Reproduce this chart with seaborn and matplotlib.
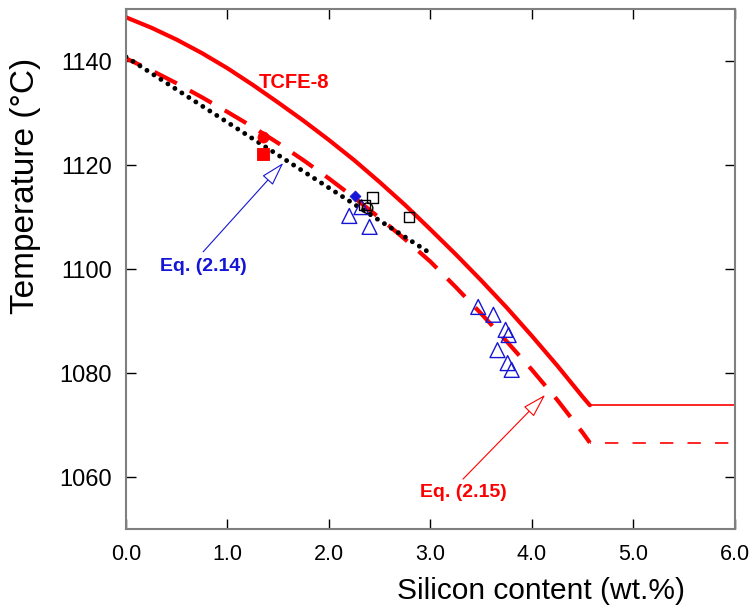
"""Liquidus temperature vs silicon content: TCFE-8, Eq. (2.14), Eq. (2.15)."""

import numpy as np
import pandas as pd
import seaborn as sns
import matplotlib
matplotlib.use("Agg")
import matplotlib.pyplot as plt

# TCFE-8 calculated curve (solid) and its plateau
si_tcfe = [0.0, 0.25, 0.5, 0.75, 1.0, 1.25, 1.5, 1.75, 2.0, 2.25, 2.5,
           2.75, 3.0, 3.25, 3.5, 3.75, 4.0, 4.25, 4.5, 4.57]
t_tcfe = [1148.4, 1146.4, 1144.1, 1141.5, 1138.6, 1135.4, 1132.0, 1128.5, 1124.8, 1120.9, 1116.7,
          1112.3, 1107.6, 1102.8, 1097.8, 1092.6, 1087.1, 1081.4, 1075.4, 1073.8]
si_tcfe_flat = [4.57, 6.0]
t_tcfe_flat = [1073.8, 1073.8]

# Eq. (2.15) (dashed) and its plateau
si_eq215 = [0.0, 0.25, 0.5, 0.75, 1.0, 1.25, 1.5, 1.75, 2.0, 2.25, 2.5,
            2.75, 3.0, 3.25, 3.5, 3.75, 4.0, 4.25, 4.5, 4.57]
t_eq215 = [1140.5, 1138.2, 1135.7, 1133.0, 1130.2, 1127.3, 1124.2, 1120.9, 1117.4, 1113.7, 1109.8,
           1105.7, 1101.4, 1096.5, 1091.4, 1086.1, 1080.6, 1074.8, 1068.5, 1066.6]
si_eq215_flat = [4.57, 6.0]
t_eq215_flat = [1066.6, 1066.6]

# Eq. (2.14) (dotted)
si_eq214 = [0.0, 1.0, 2.0, 3.0]
t_eq214 = [1140.8, 1128.2, 1115.6, 1103.0]

# measured points
red_circle_si, red_circle_t = [1.35], [1125.4]
red_square_si, red_square_t = [1.35], [1122.1]
blue_diamond_si, blue_diamond_t = [2.26], [1114.0]
black_square_si = [2.43, 2.35, 2.79]
black_square_t = [1113.8, 1112.3, 1110.0]
black_circle_si, black_circle_t = [2.38], [1111.7]
triangle_si = [2.20, 2.32, 2.40, 3.47, 3.62, 3.74, 3.77, 3.66, 3.76, 3.80]
triangle_t = [1110.2, 1111.9, 1108.1, 1092.7, 1091.2, 1088.3, 1087.3, 1084.4, 1081.9, 1080.6]

x_ticks = [0, 1, 2, 3, 4, 5, 6]
y_ticks = [1060, 1080, 1100, 1120, 1140]

RED = "#ff0000"
BLUE = "#1515d5"

sns.set_style("ticks")
plt.rcParams["font.family"] = ["Liberation Sans", "DejaVu Sans"]

fig = plt.figure(figsize=(7.49, 6.08), dpi=100)
ax = fig.add_axes([0.1682, 0.1299, 0.8131, 0.8553])

# curves
sns.lineplot(x=si_tcfe, y=t_tcfe, ax=ax, color=RED, lw=3.0, sort=False)
sns.lineplot(x=si_tcfe_flat, y=t_tcfe_flat, ax=ax, color=RED, lw=1.2, sort=False)
sns.lineplot(x=si_eq215, y=t_eq215, ax=ax, color=RED, lw=3.0, sort=False,
             linestyle=(2, (6.0, 3.6)))
sns.lineplot(x=si_eq215_flat, y=t_eq215_flat, ax=ax, color=RED, lw=1.2, sort=False,
             linestyle=(-9, (8.0, 8.5)))
sns.lineplot(x=si_eq214, y=t_eq214, ax=ax, color="black", lw=3.5, sort=False,
             linestyle=(0, (0.01, 1.7)), dash_capstyle="round")

# points
sns.scatterplot(x=triangle_si, y=triangle_t, ax=ax, marker="^", s=115,
                facecolors="none", edgecolor=BLUE, linewidth=1.0, zorder=5)
sns.scatterplot(x=black_square_si, y=black_square_t, ax=ax, marker="s", s=58,
                facecolors="none", edgecolor="black", linewidth=1.0, zorder=5)
sns.scatterplot(x=black_circle_si, y=black_circle_t, ax=ax, marker="o", s=58,
                facecolors="none", edgecolor="black", linewidth=1.0, zorder=5)
sns.scatterplot(x=blue_diamond_si, y=blue_diamond_t, ax=ax, marker="D", s=32,
                color=BLUE, edgecolor=BLUE, zorder=6)
sns.scatterplot(x=red_circle_si, y=red_circle_t, ax=ax, marker="o", s=62,
                color=RED, edgecolor=RED, zorder=6)
sns.scatterplot(x=red_square_si, y=red_square_t, ax=ax, marker="s", s=66,
                color=RED, edgecolor=RED, zorder=6)

# labels and arrows
ax.text(1.66, 1135.9, "TCFE-8", color=RED, fontsize=14.5, fontweight="bold",
        ha="center", va="center")
ax.text(0.76, 1100.4, "Eq. (2.14)", color=BLUE, fontsize=14, fontweight="bold",
        ha="center", va="center")
ax.text(3.32, 1057.1, "Eq. (2.15)", color=RED, fontsize=14, fontweight="bold",
        ha="center", va="center")
arrow_kw = dict(arrowstyle="-|>,head_length=0.75,head_width=0.22", fc="white",
                lw=0.8, shrinkA=0, shrinkB=0, mutation_scale=20)
ax.annotate("", xy=(1.55, 1120.4), xytext=(0.76, 1103.3),
            arrowprops=dict(ec=BLUE, **arrow_kw))
ax.annotate("", xy=(4.13, 1075.8), xytext=(3.32, 1059.6),
            arrowprops=dict(ec=RED, **arrow_kw))

ax.set_xlim(0, 6)
ax.set_ylim(1050, 1150)
ax.set_xticks(x_ticks)
ax.set_xticklabels([f"{v:.1f}" for v in x_ticks])
ax.set_yticks(y_ticks)
ax.tick_params(direction="in", length=7, width=1.0, pad=10,
               top=True, right=True, color="black", labelcolor="black")
ax.tick_params(axis="x", labelsize=15.5, pad=11)
ax.tick_params(axis="y", labelsize=17)
for sp in ax.spines.values():
    sp.set_color("#7f7f7f")
    sp.set_linewidth(1.5)

ax.set_xlabel("Silicon content (wt.%)", fontsize=21.5, color="black")
ax.set_ylabel("Temperature (°C)", fontsize=24, color="black")
ax.xaxis.set_label_coords(0.681, -0.092)
ax.yaxis.set_label_coords(-0.14, 0.66)

fig.savefig("out.png", dpi=100)
